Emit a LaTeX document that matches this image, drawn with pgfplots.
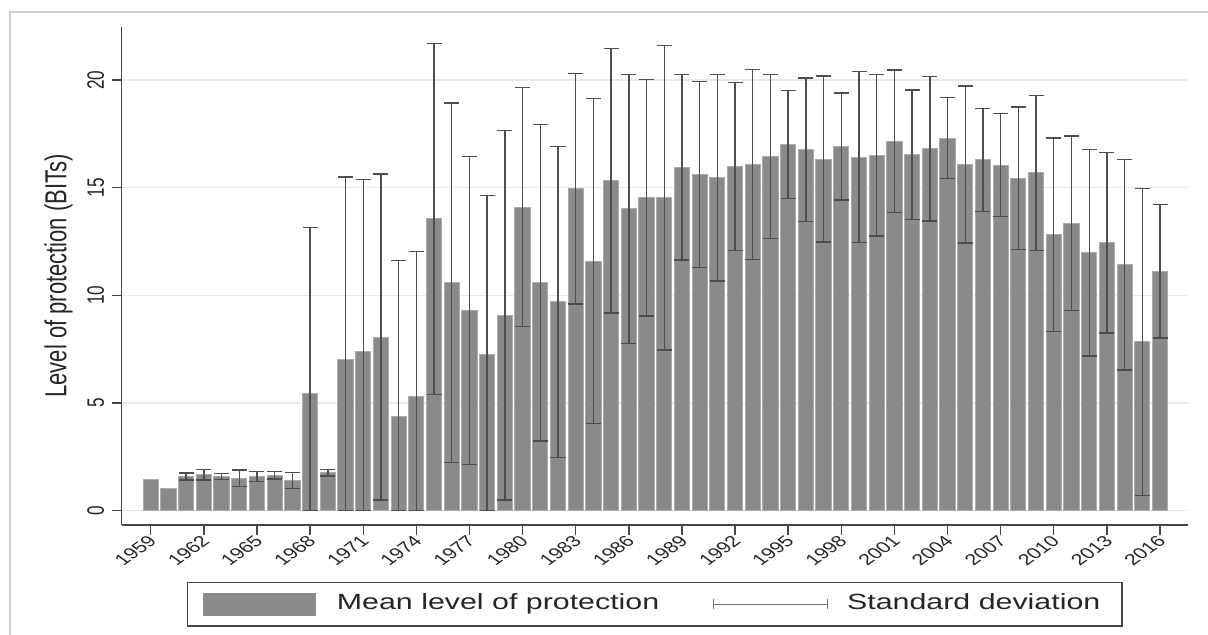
\documentclass[border=0pt]{standalone}
\usepackage{pgfplots}
\pgfplotsset{compat=1.18}
\usepackage{pgfplotstable}
\usepackage{graphicx}
\usepackage{fontspec}
\setmainfont{Liberation Sans}
\definecolor{barfill}{RGB}{138,138,138}
\definecolor{baredge}{RGB}{172,172,172}
\definecolor{errcol}{RGB}{78,78,78}
\definecolor{axcol}{RGB}{70,70,70}
\definecolor{gridcol}{RGB}{232,232,232}
\definecolor{framecol}{RGB}{205,205,205}

\pgfplotstableread{
year mean
1959 1.45
1960 1.02
1961 1.58
1962 1.66
1963 1.58
1964 1.50
1965 1.58
1966 1.64
1967 1.40
1968 5.43
1969 1.75
1970 7.01
1971 7.40
1972 8.06
1973 4.39
1974 5.31
1975 13.55
1976 10.58
1977 9.30
1978 7.26
1979 9.07
1980 14.10
1981 10.58
1982 9.69
1983 14.95
1984 11.59
1985 15.33
1986 14.02
1987 14.53
1988 14.53
1989 15.95
1990 15.61
1991 15.47
1992 15.98
1993 16.08
1994 16.45
1995 17.01
1996 16.76
1997 16.33
1998 16.91
1999 16.42
2000 16.50
2001 17.16
2002 16.53
2003 16.81
2004 17.30
2005 16.08
2006 16.29
2007 16.05
2008 15.44
2009 15.69
2010 12.81
2011 13.35
2012 11.98
2013 12.44
2014 11.42
2015 7.83
2016 11.12
}\means

\pgfplotstableread{
year mean ep em
1961 1.58 0.17 0.17
1962 1.66 0.24 0.24
1963 1.58 0.14 0.14
1964 1.50 0.38 0.38
1965 1.58 0.22 0.22
1966 1.64 0.17 0.17
1967 1.40 0.37 0.37
1968 5.43 7.71 5.43
1969 1.75 0.15 0.15
1970 7.01 8.48 7.01
1971 7.40 7.98 7.40
1972 8.06 7.57 7.57
1973 4.39 7.23 4.39
1974 5.31 6.73 5.31
1975 13.55 8.15 8.15
1976 10.58 8.35 8.35
1977 9.30 7.16 7.16
1978 7.26 7.38 7.26
1979 9.07 8.59 8.59
1980 14.10 5.55 5.55
1981 10.58 7.35 7.35
1982 9.69 7.22 7.22
1983 14.95 5.36 5.36
1984 11.59 7.54 7.54
1985 15.33 6.15 6.15
1986 14.02 6.25 6.25
1987 14.53 5.50 5.50
1988 14.53 7.08 7.08
1989 15.95 4.32 4.32
1990 15.61 4.32 4.32
1991 15.47 4.80 4.80
1992 15.98 3.90 3.90
1993 16.08 4.41 4.41
1994 16.45 3.82 3.82
1995 17.01 2.50 2.50
1996 16.76 3.34 3.34
1997 16.33 3.85 3.85
1998 16.91 2.48 2.48
1999 16.42 3.97 3.97
2000 16.50 3.75 3.75
2001 17.16 3.30 3.30
2002 16.53 3.00 3.00
2003 16.81 3.35 3.35
2004 17.30 1.88 1.88
2005 16.08 3.65 3.65
2006 16.29 2.40 2.40
2007 16.05 2.40 2.40
2008 15.44 3.30 3.30
2009 15.69 3.60 3.60
2010 12.81 4.50 4.50
2011 13.35 4.05 4.05
2012 11.98 4.80 4.80
2013 12.44 4.20 4.20
2014 11.42 4.90 4.90
2015 7.83 7.12 7.12
2016 11.12 3.10 3.10
}\errs

\begin{document}
\begin{tikzpicture}[x=1pt,y=1pt]
\path[use as bounding box] (0,0) rectangle (604,317.5);
\fill[white] (0,0) rectangle (604,317.5);
\draw[framecol, line width=0.75pt] (5,0) -- (5,311.5) -- (604,311.5);
\begin{axis}[
  at={(60.85pt,55pt)}, anchor=south west,
  scale only axis, width=533.15pt, height=249.15pt,
  xmin=1957.36, xmax=2017.58, ymin=-0.674, ymax=22.48,
  enlargelimits=false,
  axis x line*=bottom, axis y line*=left,
  axis line style={axcol, line width=0.7pt},
  tick style={axcol, line width=0.7pt},
  tick align=outside, major tick length=5pt,
  xtick={1959,1962,...,2016},
  xticklabels={1959,1962,1965,1968,1971,1974,1977,1980,1983,1986,1989,1992,1995,1998,2001,2004,2007,2010,2013,2016},
  ytick={0,5,10,15,20},
  /pgf/number format/assume math mode=true,
  tick label style={text=black!85},
  xticklabel style={font=\fontsize{7.8}{9}\selectfont, inner sep=0pt, anchor=east, cm={0.976,0.707,-0.976,0.707,(1pt,-1.5pt)}},
  yticklabel style={font=\fontsize{8.6}{10}\selectfont, inner sep=0pt, anchor=south, cm={0,1,-1.38,0,(-3.5pt,0pt)}},
  ymajorgrids, grid style={gridcol, line width=0.75pt},
  ylabel={\scalebox{1}[1.38]{Level of protection (BITs)}},
  ylabel style={at={(axis description cs:-0.0457,0.5)}, anchor=south, inner sep=0pt, font=\fontsize{11}{13}\selectfont, text=black!85},
  legend columns=2,
  legend style={at={(axis description cs:0.5,-0.1595)}, anchor=center,
    draw=axcol, line width=0.7pt, fill=white,
    inner xsep=7.5pt, inner ysep=5pt, column sep=0pt,
    font=\fontsize{11}{13}\selectfont,
    nodes={inner sep=0pt, text height=8pt, text depth=2.5pt, text=black!85}},
]
\addplot[ybar, bar width=0.86, bar shift=0pt, fill=barfill, draw=baredge, line width=0.5pt, forget plot]
  table[x=year, y=mean] {\means};
\addplot[forget plot, draw=none, mark=none,
  error bars/.cd, y dir=both, y explicit,
  error mark=|,
  error bar style={draw=errcol, line width=0.7pt},
  error mark options={draw=errcol, mark size=3.75pt, line width=0.7pt}]
  table[x=year, y=mean, y error plus index=2, y error minus index=3] {\errs};
\addlegendimage{legend image code/.code={\fill[barfill] (0pt,-5.5pt) rectangle (56pt,5.5pt);}}
\addlegendentry{\makebox[198.5pt][l]{\hspace{10.5pt}\scalebox{1.38}[1]{Mean level of protection}}}
\addlegendimage{legend image code/.code={\draw[errcol!80, line width=0.6pt] (0pt,0pt) -- (57pt,0pt) (0pt,-2.5pt) -- (0pt,2.5pt) (57pt,-2.5pt) -- (57pt,2.5pt);}}
\addlegendentry{\makebox[139.5pt][l]{\hspace{9.5pt}\scalebox{1.38}[1]{Standard deviation}}}
\end{axis}
\end{tikzpicture}
\end{document}
